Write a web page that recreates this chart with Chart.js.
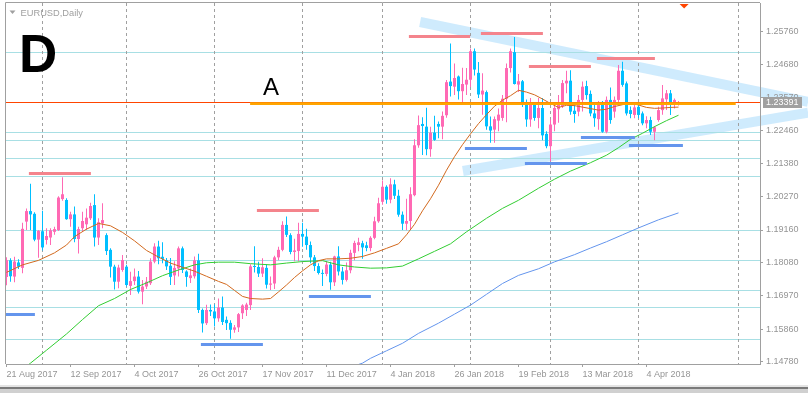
<!DOCTYPE html>
<html>
<head>
<meta charset="utf-8">
<script src="https://cdn.jsdelivr.net/npm/chart.js@4.4.1/dist/chart.umd.min.js"></script>
<style>
  html, body { margin: 0; padding: 0; background: #fff; }
  #wrap { width: 808px; height: 393px; }
</style>
</head>
<body>
<div id="wrap"><canvas id="chart" width="808" height="393"></canvas></div>
<script>
const bull = "#ff69b4",
  bear = "#00bfff",
  frameGray = "#a0a0a0",
  textGray = "#959595",
  font9 = { family: "Liberation Sans", size: 9 };

// axis ticks
const dateTicks = [0, 16, 32, 48, 64, 80, 96, 112, 128, 144, 160];
const dateLabels = ["21 Aug 2017", "12 Sep 2017", "4 Oct 2017", "26 Oct 2017", "17 Nov 2017", "11 Dec 2017",
  "4 Jan 2018", "26 Jan 2018", "19 Feb 2018", "13 Mar 2018", "4 Apr 2018"];
const priceTicks = [1.1478, 1.1586, 1.1697, 1.1808, 1.1916, 1.2027, 1.2138, 1.2246, 1.2357, 1.2468, 1.2576];

// EURUSD daily, one bar per trading day from 21 Aug 2017
const opens = [
  1.1760, 1.1815, 1.1761, 1.1808, 1.1790, 1.1944, 1.1979, 1.1970, 1.1884, 1.1912,
  1.1883, 1.1891, 1.1910, 1.1916, 1.2019, 1.2016, 1.1952, 1.1968, 1.1886, 1.1922,
  1.1935, 1.1955, 1.1999, 1.1891, 1.1938, 1.1899, 1.1850, 1.1794, 1.1744, 1.1783,
  1.1794, 1.1730, 1.1746, 1.1761, 1.1711, 1.1728, 1.1739, 1.1811, 1.1861, 1.1827,
  1.1816, 1.1797, 1.1765, 1.1788, 1.1855, 1.1778, 1.1756, 1.1762, 1.1815, 1.1650,
  1.1606, 1.1650, 1.1645, 1.1622, 1.1658, 1.1617, 1.1607, 1.1584, 1.1592, 1.1639,
  1.1650, 1.1666, 1.1795, 1.1793, 1.1771, 1.1790, 1.1734, 1.1738, 1.1825, 1.1850,
  1.1933, 1.1899, 1.1843, 1.1846, 1.1903, 1.1894, 1.1866, 1.1825, 1.1796, 1.1773,
  1.1770, 1.1801, 1.1742, 1.1828, 1.1778, 1.1750, 1.1782, 1.1840, 1.1866, 1.1872,
  1.1865, 1.1856, 1.1890, 1.1945, 1.2010, 1.2060, 1.2017, 1.2068, 1.2030, 1.1967,
  1.1937, 1.1946, 1.2032, 1.2198, 1.2269, 1.2260, 1.2185, 1.2240, 1.2269, 1.2260,
  1.2298, 1.2410, 1.2393, 1.2427, 1.2378, 1.2400, 1.2416, 1.2511, 1.2439, 1.2367,
  1.2375, 1.2261, 1.2250, 1.2280, 1.2289, 1.2353, 1.2455, 1.2508, 1.2400, 1.2411,
  1.2339, 1.2284, 1.2333, 1.2289, 1.2322, 1.2236, 1.2195, 1.2267, 1.2318, 1.2328,
  1.2404, 1.2413, 1.2313, 1.2310, 1.2349, 1.2395, 1.2369, 1.2304, 1.2285, 1.2332,
  1.2243, 1.2349, 1.2310, 1.2349, 1.2446, 1.2404, 1.2315, 1.2299, 1.2326, 1.2304,
  1.2271, 1.2282, 1.2243, 1.2282, 1.2315, 1.2351, 1.2371, 1.2332, 1.2335];
const highs = [
  1.1825, 1.1822, 1.1827, 1.1819, 1.1940, 1.1988, 1.2070, 1.1975, 1.1916, 1.1980,
  1.1922, 1.1922, 1.1927, 1.2028, 1.2092, 1.2022, 1.1977, 1.1994, 1.1927, 1.1977,
  1.1988, 1.2007, 1.2035, 1.1955, 1.2005, 1.1905, 1.1855, 1.1800, 1.1800, 1.1833,
  1.1800, 1.1777, 1.1788, 1.1780, 1.1750, 1.1760, 1.1822, 1.1872, 1.1880, 1.1875,
  1.1823, 1.1823, 1.1812, 1.1861, 1.1861, 1.1782, 1.1788, 1.1828, 1.1837, 1.1655,
  1.1667, 1.1668, 1.1668, 1.1688, 1.1695, 1.1628, 1.1616, 1.1600, 1.1640, 1.1669,
  1.1674, 1.1802, 1.1862, 1.1810, 1.1822, 1.1802, 1.1761, 1.1830, 1.1860, 1.1945,
  1.1961, 1.1905, 1.1887, 1.1940, 1.1940, 1.1920, 1.1878, 1.1833, 1.1805, 1.1785,
  1.1813, 1.1810, 1.1830, 1.1862, 1.1793, 1.1808, 1.1850, 1.1880, 1.1890, 1.1880,
  1.1877, 1.1895, 1.1960, 1.2023, 1.2081, 1.2065, 1.2088, 1.2083, 1.2050, 1.1978,
  1.2020, 1.2058, 1.2218, 1.2297, 1.2291, 1.2323, 1.2260, 1.2296, 1.2277, 1.2310,
  1.2415, 1.2537, 1.2470, 1.2430, 1.2456, 1.2455, 1.2520, 1.2520, 1.2475, 1.2438,
  1.2380, 1.2294, 1.2294, 1.2320, 1.2365, 1.2470, 1.2520, 1.2558, 1.2435, 1.2415,
  1.2350, 1.2355, 1.2340, 1.2355, 1.2355, 1.2245, 1.2284, 1.2335, 1.2365, 1.2415,
  1.2446, 1.2448, 1.2335, 1.2365, 1.2410, 1.2413, 1.2380, 1.2335, 1.2345, 1.2345,
  1.2360, 1.2390, 1.2360, 1.2465, 1.2476, 1.2410, 1.2327, 1.2332, 1.2337, 1.2310,
  1.2295, 1.2293, 1.2262, 1.2326, 1.2399, 1.2382, 1.2382, 1.2354, 1.2345];
const lows = [
  1.1732, 1.1744, 1.1742, 1.1786, 1.1772, 1.1916, 1.1916, 1.1879, 1.1824, 1.1848,
  1.1868, 1.1866, 1.1900, 1.1913, 1.2013, 1.1950, 1.1927, 1.1875, 1.1838, 1.1910,
  1.1916, 1.1949, 1.1861, 1.1866, 1.1922, 1.1833, 1.1758, 1.1718, 1.1722, 1.1777,
  1.1728, 1.1700, 1.1733, 1.1705, 1.1669, 1.1720, 1.1733, 1.1805, 1.1802, 1.1805,
  1.1783, 1.1733, 1.1733, 1.1761, 1.1773, 1.1727, 1.1740, 1.1755, 1.1640, 1.1575,
  1.1600, 1.1630, 1.1595, 1.1611, 1.1600, 1.1583, 1.1554, 1.1574, 1.1577, 1.1620,
  1.1630, 1.1650, 1.1775, 1.1760, 1.1760, 1.1721, 1.1716, 1.1720, 1.1815, 1.1845,
  1.1893, 1.1835, 1.1812, 1.1812, 1.1860, 1.1850, 1.1805, 1.1780, 1.1768, 1.1730,
  1.1762, 1.1717, 1.1730, 1.1765, 1.1735, 1.1745, 1.1772, 1.1815, 1.1845, 1.1820,
  1.1845, 1.1845, 1.1885, 1.1940, 1.2000, 1.2003, 1.2005, 1.2019, 1.1960, 1.1916,
  1.1915, 1.1916, 1.2028, 1.2190, 1.2166, 1.2165, 1.2160, 1.2213, 1.2221, 1.2218,
  1.2290, 1.2360, 1.2365, 1.2350, 1.2335, 1.2365, 1.2392, 1.2430, 1.2355, 1.2300,
  1.2250, 1.2206, 1.2206, 1.2245, 1.2280, 1.2275, 1.2440, 1.2400, 1.2375, 1.2325,
  1.2260, 1.2260, 1.2280, 1.2255, 1.2215, 1.2188, 1.2145, 1.2245, 1.2273, 1.2322,
  1.2371, 1.2300, 1.2273, 1.2295, 1.2310, 1.2350, 1.2295, 1.2260, 1.2250, 1.2240,
  1.2238, 1.2270, 1.2290, 1.2340, 1.2393, 1.2297, 1.2288, 1.2288, 1.2288, 1.2265,
  1.2255, 1.2232, 1.2215, 1.2276, 1.2300, 1.2315, 1.2299, 1.2320, 1.2330];
const closes = [
  1.1815, 1.1762, 1.1811, 1.1794, 1.1920, 1.1979, 1.1968, 1.1884, 1.1913, 1.1858,
  1.1896, 1.1915, 1.1919, 1.2024, 1.2035, 1.1952, 1.1968, 1.1886, 1.1919, 1.1946,
  1.1957, 1.1996, 1.1891, 1.1942, 1.1949, 1.1846, 1.1794, 1.1744, 1.1791, 1.1816,
  1.1733, 1.1746, 1.1761, 1.1711, 1.1728, 1.1744, 1.1811, 1.1861, 1.1822, 1.1820,
  1.1795, 1.1760, 1.1790, 1.1855, 1.1783, 1.1760, 1.1765, 1.1815, 1.1650, 1.1605,
  1.1650, 1.1645, 1.1622, 1.1658, 1.1610, 1.1606, 1.1584, 1.1592, 1.1636, 1.1665,
  1.1668, 1.1795, 1.1793, 1.1771, 1.1792, 1.1734, 1.1738, 1.1825, 1.1850, 1.1933,
  1.1900, 1.1843, 1.1848, 1.1903, 1.1894, 1.1866, 1.1825, 1.1796, 1.1773, 1.1770,
  1.1801, 1.1742, 1.1828, 1.1778, 1.1750, 1.1782, 1.1840, 1.1873, 1.1875, 1.1858,
  1.1856, 1.1890, 1.1945, 1.2005, 1.2060, 1.2017, 1.2068, 1.2030, 1.1967, 1.1937,
  1.1946, 1.2035, 1.2198, 1.2265, 1.2262, 1.2185, 1.2240, 1.2216, 1.2260, 1.2296,
  1.2408, 1.2395, 1.2422, 1.2378, 1.2402, 1.2416, 1.2511, 1.2450, 1.2367, 1.2380,
  1.2261, 1.2247, 1.2285, 1.2300, 1.2353, 1.2455, 1.2511, 1.2402, 1.2411, 1.2339,
  1.2284, 1.2335, 1.2289, 1.2322, 1.2231, 1.2195, 1.2267, 1.2322, 1.2338, 1.2405,
  1.2413, 1.2310, 1.2302, 1.2349, 1.2393, 1.2365, 1.2304, 1.2288, 1.2332, 1.2243,
  1.2349, 1.2282, 1.2349, 1.2446, 1.2399, 1.2304, 1.2302, 1.2324, 1.2299, 1.2271,
  1.2282, 1.2243, 1.2258, 1.2315, 1.2354, 1.2371, 1.2332, 1.2349, 1.2339];

// moving averages as [bar, price]
const maFast = [[0, 1.1775], [4, 1.1800], [8, 1.1815], [12, 1.1840], [15, 1.1866], [17, 1.1894], [20, 1.1919],
  [23, 1.1938], [26, 1.1930], [29, 1.1908], [32, 1.1880], [35, 1.1848], [38, 1.1826], [41, 1.1806], [44, 1.1792],
  [47, 1.1779], [50, 1.1762], [53, 1.1745], [55, 1.1735], [57, 1.1715], [59, 1.1695], [61, 1.1688], [64, 1.1686],
  [66, 1.1688], [68, 1.1710], [70, 1.1733], [72, 1.1758], [74, 1.1780], [76, 1.1800], [78, 1.1814], [80, 1.1820],
  [83, 1.1820], [86, 1.1822], [89, 1.1828], [92, 1.1840], [95, 1.1855], [98, 1.1870], [100, 1.1900], [102, 1.1935],
  [104, 1.1980], [106, 1.2020], [108, 1.2065], [110, 1.2115], [112, 1.2160], [114, 1.2200], [116, 1.2236],
  [118, 1.2270], [120, 1.2300], [122, 1.2328], [124, 1.2348], [126, 1.2363], [128, 1.2381], [130, 1.2375],
  [132, 1.2366], [134, 1.2352], [136, 1.2337], [138, 1.2324], [140, 1.2331], [142, 1.2330], [144, 1.2325],
  [146, 1.2320], [148, 1.2315], [150, 1.2318], [152, 1.2327], [154, 1.2333], [156, 1.2338], [158, 1.2332],
  [160, 1.2324], [162, 1.2321], [164, 1.2322], [166, 1.2324], [168, 1.2325]];
const maMid = [[0, 1.1408], [6, 1.1473], [10, 1.1516], [15, 1.1570], [19, 1.1618], [23, 1.1664], [27, 1.1688],
  [31, 1.1718], [35, 1.1740], [39, 1.1764], [43, 1.1783], [47, 1.1800], [50, 1.1807], [53, 1.1809], [57, 1.1809],
  [61, 1.1804], [66, 1.1800], [70, 1.1806], [74, 1.1811], [79, 1.1814], [83, 1.1800], [87, 1.1793], [91, 1.1789],
  [95, 1.1790], [99, 1.1796], [103, 1.1820], [107, 1.1845], [111, 1.1870], [115, 1.1910], [120, 1.1955],
  [124, 1.1988], [128, 1.2015], [133, 1.2055], [137, 1.2085], [141, 1.2112], [146, 1.2140], [150, 1.2165],
  [153, 1.2190], [156, 1.2218], [159, 1.2238], [162, 1.2260], [165, 1.2280], [168, 1.2298]];
const maSlow = [[85, 1.1455], [89, 1.1473], [91, 1.1489], [95, 1.1514], [99, 1.1539], [103, 1.1572], [108, 1.1606],
  [112, 1.1636], [116, 1.1666], [120, 1.1702], [124, 1.1738], [128, 1.1765], [133, 1.1787], [137, 1.1810],
  [142, 1.1834], [146, 1.1856], [150, 1.1877], [154, 1.1900], [158, 1.1923], [163, 1.1950], [168, 1.1973]];

// drawn objects
const levels = [1.25074, 1.22399, 1.22146, 1.21547, 1.20948, 1.19151, 1.18152, 1.17131, 1.16588, 1.15523];
const monthStarts = [9, 30, 52, 74, 94, 116, 136, 158, 183];
const resistance = [[5.6, 21.1, 1.21068], [62.6, 78.1, 1.19836], [100.6, 115.9, 1.25627],
  [118.6, 134.1, 1.25727], [130.6, 146.1, 1.24628], [147.6, 162.1, 1.24895]];
const support = [[-1, 7.1, 1.16365], [48.6, 64.1, 1.15366], [75.6, 91.1, 1.16964], [114.6, 130.1, 1.21900],
  [129.6, 145.1, 1.21400], [143.6, 157.1, 1.22266], [155.6, 169.1, 1.21999]];
const channelUpper = [[103.4, 1.26083], [200.4, 1.23424]];
const channelLower = [[114.1, 1.21124], [200.4, 1.23064]];
const levelA = [60.9, 182.3, 1.23380];
const labelA = [64.1, 1.23653];
const bid = 1.23391;
const shiftMark = 169.4;

const bars = opens.map((_, i) => i);
const candleColor = bars.map(i => (closes[i] >= opens[i] ? bull : bear));

// ── overlay: objects MT4 draws on the chart ───────────────────
const overlay = {
  id: "overlay",
  beforeDraw(chart) {
    const { ctx } = chart;
    const X = v => chart.scales.x.getPixelForValue(v);
    const Y = v => chart.scales.y.getPixelForValue(v);
    ctx.save();
    ctx.strokeStyle = "rgba(135,206,250,0.4)";
    ctx.lineWidth = 10;
    ctx.lineCap = "butt";
    [channelUpper, channelLower].forEach(([a, b]) => {
      ctx.beginPath();
      ctx.moveTo(X(a[0]), Y(a[1]));
      ctx.lineTo(X(b[0]), Y(b[1]));
      ctx.stroke();
    });
    ctx.restore();
  },
  beforeDatasetsDraw(chart) {
    const { ctx, chartArea: a } = chart;
    const X = v => chart.scales.x.getPixelForValue(v);
    const Y = v => chart.scales.y.getPixelForValue(v);
    ctx.save();
    ctx.beginPath();
    ctx.rect(a.left, a.top, a.right - a.left, a.bottom - a.top);
    ctx.clip();
    ctx.lineWidth = 1;
    ctx.strokeStyle = "#a8dfe4";
    levels.forEach(p => {
      const y = Math.floor(Y(p)) + 0.5;
      ctx.beginPath(); ctx.moveTo(a.left, y); ctx.lineTo(a.right, y); ctx.stroke();
    });
    ctx.strokeStyle = "#a0a0a0";
    ctx.setLineDash([3, 3]);
    monthStarts.forEach(i => {
      const x = Math.floor(X(i)) + 0.5;
      ctx.beginPath(); ctx.moveTo(x, a.top); ctx.lineTo(x, a.bottom); ctx.stroke();
    });
    ctx.restore();
  },
  afterDatasetsDraw(chart) {
    const { ctx, chartArea: a } = chart;
    const X = v => chart.scales.x.getPixelForValue(v);
    const Y = v => chart.scales.y.getPixelForValue(v);
    ctx.save();
    ctx.beginPath();
    ctx.rect(a.left, a.top, a.right - a.left, a.bottom - a.top);
    ctx.clip();
    ctx.fillStyle = "#f4848c";
    resistance.forEach(([i0, i1, p]) => ctx.fillRect(X(i0), Math.round(Y(p)) - 1, X(i1) - X(i0), 3));
    ctx.fillStyle = "#6495ed";
    support.forEach(([i0, i1, p]) => ctx.fillRect(X(i0), Math.round(Y(p)) - 1, X(i1) - X(i0), 3));
    // bid line
    const yb = Math.floor(Y(bid)) + 0.5;
    ctx.strokeStyle = "#ff4500";
    ctx.lineWidth = 1;
    ctx.beginPath(); ctx.moveTo(a.left, yb); ctx.lineTo(a.right, yb); ctx.stroke();
    // level A
    const ya = Math.round(Y(levelA[2])) - 1;
    ctx.fillStyle = "#ff8c00";
    ctx.fillRect(X(levelA[0]), ya, X(levelA[1]) - X(levelA[0]), 1);
    ctx.fillStyle = "#ffa500";
    ctx.fillRect(X(levelA[0]), ya + 1, X(levelA[1]) - X(levelA[0]), 2);
    ctx.restore();
  },
  afterDraw(chart) {
    const { ctx, chartArea: a } = chart;
    const X = v => chart.scales.x.getPixelForValue(v);
    const Y = v => chart.scales.y.getPixelForValue(v);
    ctx.save();
    // chart frame
    ctx.strokeStyle = frameGray;
    ctx.lineWidth = 1;
    ctx.beginPath();
    ctx.moveTo(a.left - 0.5, a.bottom);
    ctx.lineTo(a.left - 0.5, a.top - 0.5);
    ctx.lineTo(a.right, a.top - 0.5);
    ctx.stroke();
    // price label
    const yb = Math.floor(Y(bid));
    ctx.fillStyle = "#a0a0a0";
    ctx.fillRect(a.right + 3, yb - 5, 39, 11);
    ctx.fillStyle = "#ffffff";
    ctx.font = '9px "Liberation Sans"';
    ctx.textBaseline = "middle";
    ctx.fillText(bid.toFixed(5), a.right + 6, yb + 1);
    // chart shift marker
    const xs = X(shiftMark);
    ctx.fillStyle = "#ff4500";
    ctx.beginPath();
    ctx.moveTo(xs - 4.5, a.top + 1); ctx.lineTo(xs + 4.5, a.top + 1); ctx.lineTo(xs, a.top + 5.5);
    ctx.closePath(); ctx.fill();
    // header
    ctx.fillStyle = "#a0a0a0";
    ctx.beginPath();
    ctx.moveTo(9.5, 10.5); ctx.lineTo(15.5, 10.5); ctx.lineTo(12.5, 14);
    ctx.closePath(); ctx.fill();
    ctx.textBaseline = "alphabetic";
    ctx.font = '9.3px "Liberation Sans"';
    ctx.fillText("EURUSD,Daily", 20.5, 15.5);
    // labels
    ctx.fillStyle = "#000";
    ctx.font = 'bold 53px "Liberation Sans"';
    ctx.fillText("D", 19, 71.5);
    ctx.font = '24px "Liberation Sans"';
    ctx.fillText("A", X(labelA[0]), Y(labelA[1]));
    // window bottom edge
    ctx.fillStyle = "#e4e4e4";
    ctx.fillRect(0, 385, 808, 2);
    ctx.fillStyle = "#7a7a7a";
    ctx.fillRect(0, 387, 808, 2);
    ctx.fillStyle = "#d0d0d0";
    ctx.fillRect(0, 389, 808, 4);
    ctx.restore();
  },
};

// scales must not reserve room for half labels at their ends
const noEndPadding = s => {
  s.paddingTop = 0;
  s.paddingBottom = 0;
  s.paddingLeft = 0;
  s.paddingRight = 0;
};

new Chart(document.getElementById("chart"), {
  type: "bar",
  data: {
    datasets: [
      {
        type: "line",
        data: maFast.map(([x, y]) => ({ x, y })),
        borderColor: "#d2691e",
        borderWidth: 1,
        pointRadius: 0,
        order: 0,
      },
      {
        type: "line",
        data: maMid.map(([x, y]) => ({ x, y })),
        borderColor: "#32cd32",
        borderWidth: 1,
        pointRadius: 0,
        order: 0,
      },
      {
        type: "line",
        data: maSlow.map(([x, y]) => ({ x, y })),
        borderColor: "#6495ed",
        borderWidth: 1,
        pointRadius: 0,
        order: 0,
      },
      {
        data: bars.map(i => ({ x: i, y: [Math.min(opens[i], closes[i]), Math.max(opens[i], closes[i])] })),
        backgroundColor: candleColor,
        barThickness: 3,
        minBarLength: 1,
        grouped: false,
        inflateAmount: 0,
        order: 1,
      },
      {
        data: bars.map(i => ({ x: i, y: [lows[i], highs[i]] })),
        backgroundColor: candleColor,
        barThickness: 1,
        grouped: false,
        inflateAmount: 0,
        order: 2,
      },
    ],
  },
  options: {
    responsive: false,
    devicePixelRatio: 1,
    animation: false,
    events: [],
    layout: { padding: { left: 6, top: 3, right: 0, bottom: 0 } },
    plugins: { legend: { display: false }, tooltip: { enabled: false } },
    scales: {
      x: {
        type: "linear",
        min: -0.125,
        max: 188.375,
        offset: false,
        afterBuildTicks: s => { s.ticks = dateTicks.map(v => ({ value: v })); },
        afterFit: s => { s.height = 29; noEndPadding(s); },
        ticks: {
          autoSkip: false,
          maxRotation: 0,
          align: "start",
          padding: 2,
          color: textGray,
          font: font9,
          callback: (v, i) => dateLabels[i],
        },
        grid: { drawOnChartArea: false, tickLength: 3, color: frameGray, offset: false },
        border: { color: frameGray },
      },
      y: {
        position: "right",
        min: 1.14701,
        max: 1.26715,
        beginAtZero: false,
        afterBuildTicks: s => { s.ticks = priceTicks.map(v => ({ value: v })); },
        afterFit: s => { s.width = 48; noEndPadding(s); },
        ticks: {
          autoSkip: false,
          padding: 3,
          color: textGray,
          font: font9,
          callback: v => v.toFixed(5),
        },
        grid: { drawOnChartArea: false, tickLength: 3, color: frameGray },
        border: { color: frameGray },
      },
    },
  },
  plugins: [overlay],
});
</script>
</body>
</html>
